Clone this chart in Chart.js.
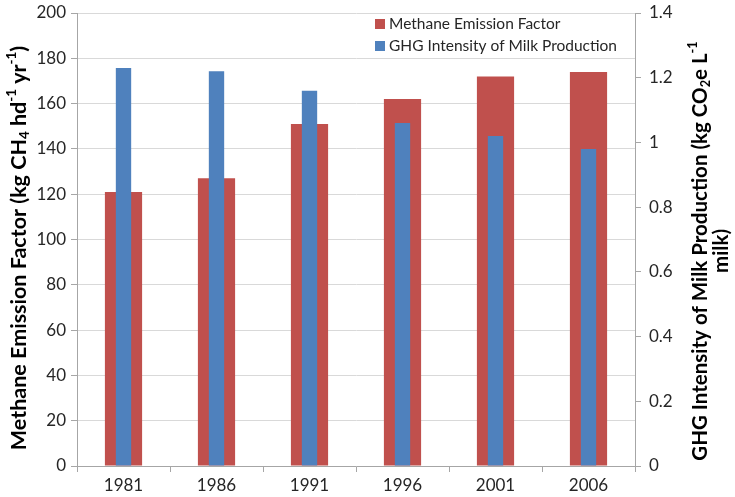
<!DOCTYPE html>
<html><head><meta charset="utf-8">
<script src="https://cdn.jsdelivr.net/npm/chart.js@4"></script>
<style>html,body{margin:0;padding:0;background:#fff}#w{width:735px;height:497px}</style>
</head><body><div id="w"><canvas id="c" width="735" height="497"></canvas></div>
<script>
const years = ['1981','1986','1991','1996','2001','2006'];
const methaneEF = [121, 127, 151, 162, 172, 174];
const ghgIntensity = [1.23, 1.22, 1.16, 1.06, 1.02, 0.98];
const leftTicks = [0,20,40,60,80,100,120,140,160,180,200];
const rightTicks = [0,0.2,0.4,0.6,0.8,1,1.2,1.4];
const seriesNames = ['Methane Emission Factor','GHG Intensity of Milk Production'];
const leftTitle = [['Methane Emission Factor (kg CH',''],['4','sub'],[' hd',''],['-1','sup'],[' yr',''],['-1','sup'],[')','']];
const rightTitle1 = [['GHG Intensity of Milk Production (kg CO',''],['2','sub'],['e L',''],['-1','sup']];
const rightTitle2 = [['milk)','']];

const FONT = 'Lato, "Liberation Sans", sans-serif';
const RED = '#c0504d', BLUE = '#4f81bd';

function richWidth(ctx, segs, size){
  let w=0;
  for(const [t,k] of segs){ctx.font = 'bold '+(k?size*0.62:size)+'px '+FONT; w+=ctx.measureText(t).width;}
  return w;
}
function drawRich(ctx, segs, size, cx, cy){
  const w = richWidth(ctx, segs, size);
  let x = cx - w/2;
  ctx.textBaseline='middle'; ctx.textAlign='left';
  for(const [t,k] of segs){
    const s = k?size*0.62:size;
    ctx.font='bold '+s+'px '+FONT;
    const dy = k==='sub'? size*0.28 : (k==='sup'? -size*0.33 : 0);
    ctx.fillText(t, x, cy+dy);
    x += ctx.measureText(t).width;
  }
}

const extras = {
  id:'extras',
  afterDraw(chart){
    const ctx = chart.ctx;
    ctx.save();
    ctx.fillStyle='#000';
    ctx.save(); ctx.translate(19, 248); ctx.rotate(-Math.PI/2);
    drawRich(ctx, leftTitle, 21.5, 0, 0); ctx.restore();
    ctx.save(); ctx.translate(700, 251); ctx.rotate(-Math.PI/2);
    drawRich(ctx, rightTitle1, 20.5, 0, 0); ctx.restore();
    ctx.save(); ctx.translate(721, 251); ctx.rotate(-Math.PI/2);
    drawRich(ctx, rightTitle2, 20.5, 0, 0); ctx.restore();
    const ds = chart.data.datasets;
    ctx.font = '15.5px '+FONT; ctx.textBaseline='middle'; ctx.textAlign='left';
    ds.forEach((d,i)=>{
      const y = 24 + i*22;
      ctx.fillStyle = d.backgroundColor;
      ctx.fillRect(375, y-5, 10, 10);
      ctx.fillStyle = '#262626';
      ctx.fillText(d.label, 389, y);
    });
    ctx.restore();
  }
};

function fixY(w){ return function(s){ s.width = w; s.paddingTop = 0; s.paddingBottom = 0; }; }

new Chart(document.getElementById('c'), {
  type:'bar',
  data:{
    labels: years,
    datasets:[
      {label: seriesNames[0], data: methaneEF, backgroundColor: RED, yAxisID:'y', order:2, barPercentage:0.4, categoryPercentage:1, grouped:false},
      {label: seriesNames[1], data: ghgIntensity, backgroundColor: BLUE, yAxisID:'y1', order:1, barPercentage:0.165, categoryPercentage:1, grouped:false}
    ]
  },
  options:{
    responsive:false, animation:false,
    layout:{padding:{top:13, right:0, left:0, bottom:0}},
    plugins:{legend:{display:false}, tooltip:{enabled:false}},
    scales:{
      x:{
        offset:true,
        grid:{drawOnChartArea:false, drawTicks:true, tickLength:6, color:'#a6a6a6', offset:true},
        border:{color:'#a6a6a6'},
        ticks:{color:'#262626', font:{family:FONT, size:17}, padding:3},
        afterFit(s){s.height = 31; s.paddingLeft = 0; s.paddingRight = 0;}
      },
      y:{
        position:'left', min:0, max:200,
        afterBuildTicks(s){s.ticks = leftTicks.map(v=>({value:v}));},
        grid:{color:'#d9d9d9', tickLength:6, tickColor:'#a6a6a6'},
        border:{color:'#a6a6a6'},
        ticks:{color:'#262626', font:{family:FONT, size:17}, padding:5},
        afterFit: fixY(77)
      },
      y1:{
        position:'right', min:0, max:1.4,
        afterBuildTicks(s){s.ticks = rightTicks.map(v=>({value:v}));},
        grid:{drawOnChartArea:false, tickLength:6, color:'#a6a6a6'},
        border:{color:'#a6a6a6'},
        ticks:{color:'#262626', font:{family:FONT, size:17}, padding:8, callback:v=>String(Math.round(v*10)/10)},
        afterFit: fixY(100)
      }
    }
  },
  plugins:[extras]
});
</script>
</body></html>
